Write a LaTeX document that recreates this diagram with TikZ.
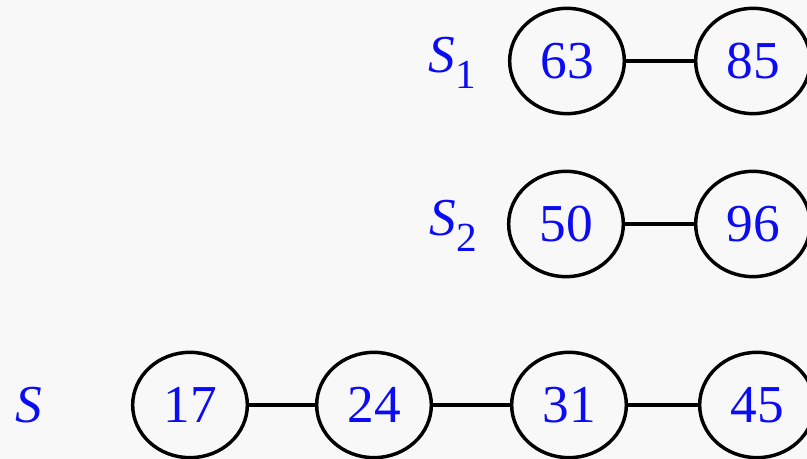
\documentclass[tikz,border=0pt]{standalone}
\usepackage{fontspec}
\setmainfont{Liberation Serif}
\definecolor{fond}{HTML}{F8F8F8}
\definecolor{bleu}{HTML}{0C0CF2}
\tikzset{
    cle/.style={ellipse, draw=black, line width=2.6pt, minimum width=86pt, minimum height=79pt,
        inner sep=0pt, text=bleu, font=\fontsize{40}{40}\selectfont},
    nom/.style={text=bleu, font=\fontsize{40}{40}\selectfont, inner sep=0pt},
    lien/.style={line width=2.6pt}
}
\newcommand{\ens}[1]{\textit{S}\raisebox{-0.3em}{\fontsize{31}{31}\selectfont #1}}
\usetikzlibrary{shapes.geometric}
\begin{document}
\begin{tikzpicture}[x=0.75pt, y=0.75pt]
    % Fond et cadre
    \fill[fond] (0,0) rectangle (807,459);
    \useasboundingbox (0,0) rectangle (807,459);
    % Ensemble S1
    \node[nom] (s1) at (452,396) {\ens{1}};
    \node[cle] (a63) at (567,398) {63};
    \node[cle] (a85) at (753,398) {85};
    \draw[lien] (a63) -- (a85);
    % Ensemble S2
    \node[nom] (s2) at (453,233) {\ens{2}};
    \node[cle] (a50) at (566,235) {50};
    \node[cle] (a96) at (753,235) {96};
    \draw[lien] (a50) -- (a96);
    % Ensemble S
    \node[nom] (s) at (29,54) {\textit{S}};
    \node[cle] (a17) at (190,54) {17};
    \node[cle] (a24) at (374,54) {24};
    \node[cle] (a31) at (569,54) {31};
    \node[cle] (a45) at (757,54) {45};
    \draw[lien] (a17) -- (a24) (a24) -- (a31) (a31) -- (a45);
\end{tikzpicture}
\end{document}
